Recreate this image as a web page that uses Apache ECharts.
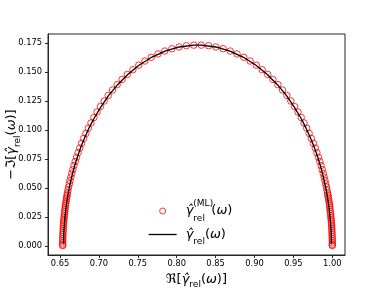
<!DOCTYPE html>
<html><head><meta charset="utf-8">
<script src="https://cdn.jsdelivr.net/npm/echarts@6/dist/echarts.min.js"></script>
<style>html,body{margin:0;padding:0;background:#fff}#c{width:384px;height:288px}</style>
</head><body><div id="c"></div>
<script>
// ML-predicted points (open red circles)
const mlRe = [
0.6535,0.6535,0.6535,0.6536,0.6536,0.6537,0.6538,0.6539,0.6540,0.6542,0.6543,0.6545,0.6547,0.6550,0.6552,0.6555,0.6558,0.6561,0.6564,0.6567,0.6571,0.6575,0.6579,0.6583,0.6587,0.6592,
0.6596,0.6603,0.6611,0.6620,0.6629,0.6640,0.6652,0.6665,0.6679,0.6696,0.6713,0.6733,0.6754,0.6778,0.6804,0.6833,0.6864,0.6898,0.6936,0.6976,0.7020,0.7068,0.7120,0.7175,0.7234,0.7298,0.7365,0.7437,0.7512,0.7591,0.7673,0.7759,0.7847,0.7938,0.8031,0.8125,0.8220,
0.8315,0.8410,0.8504,0.8597,0.8688,0.8776,0.8862,0.8944,0.9023,0.9099,0.9170,0.9237,0.9301,0.9360,0.9416,0.9467,0.9515,0.9559,0.9600,0.9637,0.9671,0.9702,0.9731,0.9757,0.9781,0.9802,0.9822,0.9840,0.9856,0.9870,0.9883,0.9895,0.9906,0.9915,0.9924,0.9932,0.9939,
0.9943,0.9948,0.9952,0.9957,0.9961,0.9965,0.9968,0.9971,0.9975,0.9978,0.9980,0.9983,0.9986,0.9988,0.9990,0.9992,0.9993,0.9995,0.9996,0.9997,0.9998,0.9999,0.9999,1.0000,1.0000,1.0000
];
const mlIm = [
0.0003,0.0010,0.0026,0.0044,0.0062,0.0080,0.0098,0.0116,0.0134,0.0152,0.0170,0.0188,0.0206,0.0224,0.0242,0.0260,0.0278,0.0296,0.0314,0.0332,0.0350,0.0368,0.0386,0.0404,0.0422,0.0440,
0.0457,0.0482,0.0508,0.0535,0.0564,0.0594,0.0626,0.0658,0.0693,0.0728,0.0765,0.0804,0.0844,0.0885,0.0927,0.0971,0.1016,0.1061,0.1108,0.1155,0.1202,0.1250,0.1298,0.1345,0.1391,0.1436,0.1479,0.1520,0.1559,0.1595,0.1627,0.1656,0.1681,0.1701,0.1716,0.1727,0.1732,
0.1732,0.1727,0.1716,0.1701,0.1681,0.1656,0.1627,0.1595,0.1559,0.1520,0.1479,0.1436,0.1391,0.1345,0.1298,0.1250,0.1202,0.1155,0.1108,0.1061,0.1016,0.0971,0.0927,0.0885,0.0844,0.0804,0.0765,0.0728,0.0693,0.0658,0.0626,0.0594,0.0564,0.0535,0.0508,0.0482,0.0457,
0.0440,0.0422,0.0404,0.0386,0.0368,0.0350,0.0332,0.0314,0.0296,0.0278,0.0260,0.0242,0.0224,0.0206,0.0188,0.0170,0.0152,0.0134,0.0116,0.0098,0.0080,0.0062,0.0044,0.0026,0.0010,0.0003
];
// reference curve (black line)
const trueRe = [
0.6545,0.6546,0.6549,0.6556,0.6565,0.6577,0.6593,
0.6606,0.6621,0.6639,0.6662,0.6689,0.6723,0.6763,0.6813,0.6872,0.6944,0.7028,0.7126,0.7241,0.7371,0.7516,0.7677,0.7850,0.8032,0.8220,
0.8315,0.8503,0.8685,0.8858,0.9019,0.9165,0.9295,0.9409,0.9507,0.9592,0.9663,0.9722,0.9772,0.9813,0.9846,0.9873,0.9896,0.9914,0.9929,
0.9942,0.9958,0.9970,0.9979,0.9986,0.9989,0.9990
];
const trueIm = [
0.0015,0.0044,0.0116,0.0188,0.0260,0.0332,0.0404,
0.0457,0.0508,0.0564,0.0626,0.0693,0.0765,0.0844,0.0927,0.1016,0.1108,0.1202,0.1298,0.1391,0.1479,0.1559,0.1627,0.1681,0.1716,0.1732,
0.1732,0.1716,0.1681,0.1627,0.1559,0.1479,0.1391,0.1298,0.1202,0.1108,0.1016,0.0927,0.0844,0.0765,0.0693,0.0626,0.0564,0.0508,0.0457,
0.0404,0.0332,0.0260,0.0188,0.0116,0.0044,0.0015
];
const xTicks = [0.65,0.70,0.75,0.80,0.85,0.90,0.95,1.00];
const yTicks = [0.000,0.025,0.050,0.075,0.100,0.125,0.150,0.175];
const seriesNames = ['ML','true'];

const F = 'DejaVu Sans';
function makeRich(fs, lh, sfs) {
  return {
    n:   {fontFamily:F, fontSize:fs, lineHeight:lh, color:'#000'},
    g:   {fontFamily:F, fontSize:fs, lineHeight:lh, fontStyle:'italic', color:'#000'},
    g0:  {fontFamily:F, fontSize:fs, lineHeight:lh, fontStyle:'italic', color:'#000', padding:[0,0,0,4]},
    sub: {fontFamily:F, fontSize:sfs, lineHeight:sfs+1, verticalAlign:'bottom', color:'#000'},
    subw:{fontFamily:F, fontSize:sfs, lineHeight:sfs+1, verticalAlign:'bottom', color:'#000', width:18},
    sup: {fontFamily:F, fontSize:sfs, lineHeight:sfs+1, verticalAlign:'top', width:0, color:'#000'}
  };
}
const axisRich = makeRich(13, 20, 9);
const legRich = makeRich(13, 24, 9);
const legendText = {
  'ML':   '{g0|γ̂}{sup|(ML)}{subw|rel}{n|(}{g|ω}{n|)}',
  'true': '{g0|γ̂}{sub|rel}{n|(}{g|ω}{n|)}'
};
const spine = '#262626';

const chart = echarts.init(document.getElementById('c'), null, {renderer:'canvas'});
chart.setOption({
  animation: false,
  backgroundColor: '#fff',
  grid: {left:48, right:39, top:34, bottom:33, containLabel:false, outerBoundsMode:'none',
         show:true, borderColor:spine, borderWidth:1, backgroundColor:'transparent'},
  xAxis: {
    type:'value', min:0.6346, max:1.0163,
    axisLine:{show:true, onZero:false, lineStyle:{color:spine, width:1}},
    axisTick:{show:true, customValues:xTicks, length:3, lineStyle:{color:spine}},
    axisLabel:{show:true, customValues:xTicks, formatter:v=>v.toFixed(2), fontFamily:F, fontSize:8.3, color:'#000', margin:5},
    splitLine:{show:false},
    name:'{n|ℜ[}{g|γ̂}{sub|rel}{n|(}{g|ω}{n|)]}', nameLocation:'middle', nameGap:13,
    nameTextStyle:{rich:axisRich, fontFamily:F, fontSize:13}
  },
  yAxis: {
    type:'value', min:-0.0078, max:0.1828,
    axisLine:{show:true, onZero:false, lineStyle:{color:spine, width:1}},
    axisTick:{show:true, customValues:yTicks, length:3, lineStyle:{color:spine}},
    axisLabel:{show:true, customValues:yTicks, formatter:v=>v.toFixed(3), fontFamily:F, fontSize:8.3, color:'#000', margin:6},
    splitLine:{show:false},
    name:'{n|−ℑ[}{g|γ̂}{sub|rel}{n|(}{g|ω}{n|)]}', nameLocation:'middle', nameGap:26, nameRotate:90,
    nameMoveOverlap:false,
    nameTextStyle:{rich:axisRich, fontFamily:F, fontSize:13}
  },
  legend: {
    orient:'vertical', left:148, top:199, padding:0, itemWidth:28, itemHeight:6, itemGap:5,
    data:[
      {name:seriesNames[0], icon:'circle', itemStyle:{color:'transparent', borderColor:'#ff0000', borderWidth:1}},
      {name:seriesNames[1], itemStyle:{color:'transparent', borderColor:'transparent', borderWidth:0, opacity:0},
       lineStyle:{color:'#000', width:1.3}}
    ],
    formatter: name => legendText[name],
    textStyle:{rich:legRich, fontFamily:F, fontSize:13}
  },
  series: [
    {name:seriesNames[0], type:'scatter', silent:true, z:2,
     data: mlRe.map((x,i)=>[x, mlIm[i]]),
     symbol:'circle', symbolSize:6.5,
     itemStyle:{color:'transparent', borderColor:'#ff0000', borderWidth:1}},
    {name:seriesNames[1], type:'line', silent:true, z:3,
     data: trueRe.map((x,i)=>[x, trueIm[i]]),
     symbol:'none', showSymbol:false,
     lineStyle:{color:'#000', width:1.3}}
  ]
});
</script></body></html>
